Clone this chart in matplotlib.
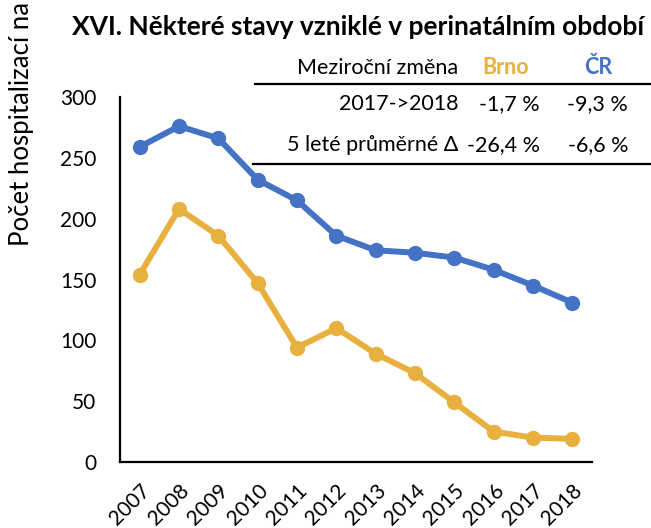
import matplotlib
matplotlib.use("Agg")
import matplotlib.pyplot as plt
from matplotlib.lines import Line2D

plt.rcParams['font.family'] = ['Lato', 'DejaVu Sans']

years = ['2007', '2008', '2009', '2010', '2011', '2012',
         '2013', '2014', '2015', '2016', '2017', '2018']
cr = [259, 276, 266, 232, 215, 186, 174, 172, 168, 158, 145, 131]
brno = [154, 208, 186, 147, 94, 110, 89, 73, 49, 25, 20, 19]

title = "XVI. Některé stavy vzniklé v perinatálním období"
ylabel = "Počet hospitalizací na 100 000 obyvatel"

row_labels = ["2017->2018", "5 leté průměrné Δ"]
brno_change = ["-1,7 %", "-26,4 %"]
cr_change = ["-9,3 %", "-6,6 %"]

c_brno = '#E8B03E'
c_cr = '#4472C4'

W, H = 651, 528
fig = plt.figure(figsize=(W / 100, H / 100), dpi=100)
ax = fig.add_axes([120 / W, 66 / H, 472 / W, 365 / H])

x = list(range(len(years)))
ax.plot(x, cr, color=c_cr, lw=4.3, marker='o', ms=10, solid_capstyle='round')
ax.plot(x, brno, color=c_brno, lw=4.3, marker='o', ms=10, solid_capstyle='round')

ax.set_xlim(-0.5, len(years) - 0.5)
ax.set_ylim(0, 300)
ax.set_yticks([0, 50, 100, 150, 200, 250, 300])
ax.set_xticks(x)
ax.set_xticklabels(years, rotation=45, ha='right', rotation_mode='anchor')
ax.tick_params(axis='y', length=0, pad=17, labelsize=15)
ax.tick_params(axis='x', length=0, pad=13, labelsize=15)
for s in ['top', 'right']:
    ax.spines[s].set_visible(False)
for s in ['left', 'bottom']:
    ax.spines[s].set_linewidth(1.6)
    ax.spines[s].set_color('black')
ax.patch.set_visible(False)

fig.text(72 / W, 1 - 27 / H, title, fontsize=19, fontweight='bold',
         ha='left', va='center')
fig.text(22 / W, 1 - 246 / H, ylabel, rotation=90, fontsize=18.5,
         ha='center', va='bottom')

# comparison table
fs = 15.5
fig.text(458 / W, 1 - 68 / H, "Meziroční změna", fontsize=fs, ha='right', va='center')
fig.text(506 / W, 1 - 68 / H, "Brno", fontsize=fs, ha='center', va='center',
         color=c_brno, fontweight='bold')
fig.text(598 / W, 1 - 68 / H, "ČR", fontsize=fs, ha='center', va='center',
         color=c_cr, fontweight='bold')
row_y = [104, 145]
for lab, b, c, yy in zip(row_labels, brno_change, cr_change, row_y):
    fig.text(458 / W, 1 - yy / H, lab, fontsize=fs, ha='right', va='center')
    fig.text(540 / W, 1 - yy / H, b, fontsize=fs, ha='right', va='center')
    fig.text(628 / W, 1 - yy / H, c, fontsize=fs, ha='right', va='center')
for yy, x0 in [(84, 255), (164, 253)]:
    fig.add_artist(Line2D([x0 / W, 1], [1 - yy / H, 1 - yy / H],
                          transform=fig.transFigure, color='black', lw=1.6))

fig.savefig('out.png', dpi=100)
